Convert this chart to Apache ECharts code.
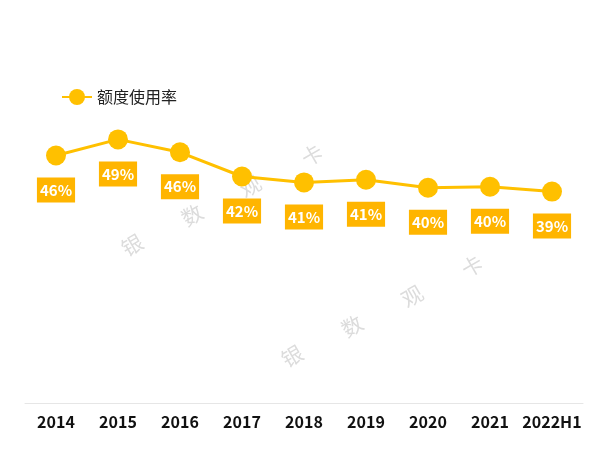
<!DOCTYPE html>
<html><head><meta charset="utf-8">
<script src="https://cdn.jsdelivr.net/npm/echarts@6/dist/echarts.min.js"></script>
<style>html,body{margin:0;padding:0;background:#fff}#c{width:600px;height:450px}</style>
</head><body><div id="c"></div>
<script>
var categories = ['2014','2015','2016','2017','2018','2019','2020','2021','2022H1'];
var usageRate = [46.0, 49.0, 46.6, 42.1, 41.0, 41.5, 40.0, 40.2, 39.3];
var labelText = ['46%','49%','46%','42%','41%','41%','40%','40%','39%'];
var seriesName = '额度使用率';

var chart = echarts.init(document.getElementById('c'));
var wmFont = '21px "Noto Sans CJK SC"';
function wm(x, y, t){ return {type:'text', x:x, y:y, rotation: Math.PI/6, style:{text:t, font:wmFont, fill:'#dcdcdc', align:'center', verticalAlign:'middle'}, z:0}; }
chart.setOption({
  animation:false,
  textStyle:{fontFamily:'"Noto Sans CJK SC", sans-serif'},
  legend:{left:56, top:84, itemWidth:30, itemHeight:20, itemGap:8,
    textStyle:{fontSize:16, color:'#222'}, data:[seriesName]},
  grid:{left:25, right:17, top:134, bottom:47},
  xAxis:{type:'category', data:categories, boundaryGap:true,
    axisLine:{lineStyle:{color:'#e6e6e6', width:1}}, axisTick:{show:false},
    axisLabel:{color:'#111', fontSize:16, fontWeight:'bold', margin:11, interval:0}},
  yAxis:{type:'value', min:0, max:50, show:false, splitLine:{show:false}},
  graphic: [wm(132,245,'银'), wm(192,215,'数'), wm(250,186,'观'), wm(312,155,'卡'),
            wm(292,356,'银'), wm(352,326,'数'), wm(412,296,'观'), wm(472,266,'卡')],
  series:[{
    name:seriesName, type:'line', data:usageRate,
    symbol:'circle', symbolSize:20,
    lineStyle:{color:'#FFC000', width:3},
    itemStyle:{color:'#FFC000'},
    z:3,
    label:{show:true, position:'bottom', distance:12,
      formatter:function(p){return labelText[p.dataIndex];},
      backgroundColor:'#FFB500', color:'#fff', fontSize:15, fontWeight:'bold',
      padding:[5,3,5,3], fontFamily:'"Noto Sans CJK SC", sans-serif'}
  }]
});
</script></body></html>
